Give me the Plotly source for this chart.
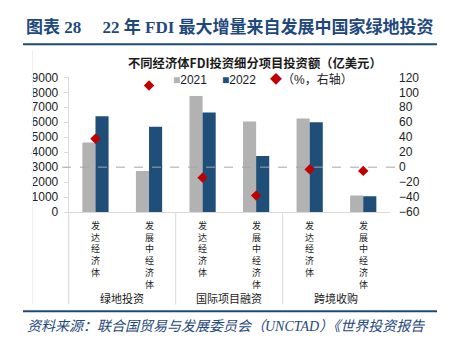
import plotly.graph_objects as go

W, H = 449, 347

# ---- data ----
categories = ["发达经济体", "发展中经济体", "发达经济体", "发展中经济体", "发达经济体", "发展中经济体"]
groups = ["绿地投资", "国际项目融资", "跨境收购"]
v2021 = [4650, 2750, 7750, 6050, 6250, 1100]
v2022 = [6400, 5700, 6650, 3750, 6000, 1050]
pct = [38, 109, -14, -38, -3, -5]
left_ticks = [0, 1000, 2000, 3000, 4000, 5000, 6000, 7000, 8000, 9000]
right_ticks = [-60, -40, -20, 0, 20, 40, 60, 80, 100, 120]

title = "图表 28&nbsp;&nbsp;&nbsp;&nbsp;&nbsp;22 年 FDI 最大增量来自发展中国家绿地投资"
subtitle = "不同经济体FDI投资细分项目投资额（亿美元）"
source = "资料来源：联合国贸易与发展委员会（UNCTAD）《世界投资报告"
legend_names = ["2021", "2022", "（%，右轴）"]

GRAY = "#B2B2B2"
BLUE = "#1F4E79"
RED = "#C00000"
NAVY = "#1F497D"
LINE = "#D9D9D9"

def px(x):
    return x / W

def py(y):
    return 1 - y / H

x0p, x1p = 68.7, 390.0
y_top, y_bot = 73.3, 213.7

xs = list(range(len(categories)))

fig = go.Figure()
fig.add_trace(go.Bar(x=xs, y=v2021, name=legend_names[0], marker=dict(color=GRAY, line=dict(width=0)),
                     showlegend=False))
fig.add_trace(go.Bar(x=xs, y=v2022, name=legend_names[1], marker=dict(color=BLUE, line=dict(width=0)),
                     showlegend=False))
fig.add_trace(go.Scatter(x=xs, y=pct, name=legend_names[2], mode="markers", yaxis="y2",
                         marker=dict(symbol="diamond", size=8, color=RED), showlegend=False))

tickfont = dict(family="Liberation Sans, Arial, sans-serif", size=12, color="#222222")
cjk = "Noto Sans CJK SC, sans-serif"

fig.update_layout(
    width=W, height=H,
    margin=dict(l=0, r=0, t=0, b=0),
    paper_bgcolor="white", plot_bgcolor="white",
    barmode="group", bargap=0.51, bargroupgap=0,
    xaxis=dict(domain=[px(x0p), px(x1p)], range=[-0.5, 5.5], showticklabels=False,
               showgrid=False, zeroline=False, showline=True, linecolor=LINE, linewidth=1,
               fixedrange=True),
    yaxis=dict(domain=[py(y_bot), py(y_top)], range=[0, 9000], tickvals=left_ticks,
               showgrid=False, zeroline=False, showline=True, linecolor=LINE, linewidth=1,
               ticks="outside", ticklen=4, tickcolor=LINE, tickfont=tickfont,
               ticklabelstandoff=3),
    yaxis2=dict(overlaying="y", side="right", range=[-60, 120], tickvals=right_ticks,
                showgrid=False, zeroline=False, showline=False, ticks="", tickfont=tickfont,
                ticklabelstandoff=8),
    showlegend=False,
)

shapes = []
# title underline and footer line
shapes.append(dict(type="line", xref="paper", yref="paper", x0=px(23), x1=px(437),
                   y0=py(38.7), y1=py(38.7), line=dict(color=NAVY, width=2)))
shapes.append(dict(type="line", xref="paper", yref="paper", x0=px(23), x1=px(437),
                   y0=py(317), y1=py(317), line=dict(color=NAVY, width=2)))
# dashed zero line of right axis
shapes.append(dict(type="line", xref="paper", yref="y2", x0=px(62), x1=px(398),
                   y0=0, y1=0, line=dict(color="#A6A6A6", width=1, dash="dash")))
# group separators below the axis
for xp in [x0p, 175.7, 282.7]:
    shapes.append(dict(type="line", xref="paper", yref="paper", x0=px(xp), x1=px(xp),
                       y0=py(y_bot), y1=py(310), line=dict(color=LINE, width=1)))
# faint chart-area border
shapes.append(dict(type="line", xref="paper", yref="paper", x0=px(32.5), x1=px(32.5),
                   y0=py(45), y1=py(310), line=dict(color="#EFEFEF", width=1)))
fig.update_layout(shapes=shapes)

ann = []
ann.append(dict(text="<b>" + title + "</b>", x=px(24), y=py(21), xref="paper", yref="paper",
                xanchor="left", yanchor="middle", showarrow=False,
                font=dict(family="Liberation Serif, Noto Sans CJK SC, serif", size=17, color=NAVY)))
ann.append(dict(text="<b>" + subtitle + "</b>", x=px(255), y=py(58), xref="paper", yref="paper",
                xanchor="center", yanchor="middle", showarrow=False,
                font=dict(family=cjk, size=12.3, color="#1A1A1A")))
# legend
leg_x = [171, 220, 268]
leg_sym = [("■", GRAY), ("■", BLUE), ("◆", RED)]
for lx, (sym, col), name in zip(leg_x, leg_sym, legend_names):
    ann.append(dict(text=f"<span style='color:{col}'>{sym}</span>{name}", x=px(lx), y=py(76),
                    xref="paper", yref="paper", xanchor="left", yanchor="middle", showarrow=False,
                    font=dict(family="Liberation Sans, Noto Sans CJK SC, sans-serif", size=12,
                              color="#1A1A1A")))
# vertical category labels (one character per row)
for i, lab in enumerate(categories):
    ann.append(dict(text="<br>".join(lab), x=i, y=py(219), xref="x", yref="paper",
                    xanchor="center", yanchor="top", showarrow=False,
                    font=dict(family=cjk, size=9, color="#1A1A1A")))
# group labels
gx = [(x0p + 175.7) / 2, (175.7 + 282.7) / 2, (282.7 + x1p) / 2]
for g, gxp in zip(groups, gx):
    ann.append(dict(text=g, x=px(gxp), y=py(303), xref="paper", yref="paper",
                    xanchor="center", yanchor="middle", showarrow=False,
                    font=dict(family=cjk, size=11, color="#1A1A1A")))
# source
ann.append(dict(text="<i>" + source + "</i>", x=px(25), y=py(333), xref="paper", yref="paper",
                xanchor="left", yanchor="middle", showarrow=False,
                font=dict(family="Liberation Serif, Noto Sans CJK SC, serif", size=14, color=NAVY)))
fig.update_layout(annotations=ann)

fig.write_html("out.html")
